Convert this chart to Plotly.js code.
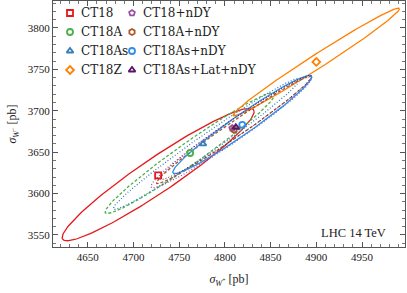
<!DOCTYPE html>
<html>
<head>
<meta charset="utf-8">
<script src="https://cdn.plot.ly/plotly-3.0.1.min.js"></script>
<style>html,body{margin:0;padding:0;background:#fff;}#chart{width:407px;height:293px;}</style>
</head>
<body>
<div id="chart"></div>
<script>
// PDF sets (legend order)
const names   = ["CT18", "CT18A", "CT18As", "CT18Z", "CT18+nDY", "CT18A+nDY", "CT18As+nDY", "CT18As+Lat+nDY"];
// central values (pb)
const sigWplus  = [4727, 4762, 4776, 4900, 4808, 4810, 4819, 4812];
const sigWminus = [3622, 3649, 3660, 3759, 3679, 3677, 3683, 3680];
// error-ellipse centres and parameters (pb): half-extent in W+, half-extent in W-, correlation
const ellCx  = [4727, 4762, 4780, 4900, 4807, 4810, 4819, 4812];
const ellCy  = [3623, 3649, 3660, 3759, 3674, 3677, 3683.5, 3680];
const ellSx  = [105, 93, 102, 91, 88, 85, 76, 83];
const ellSy  = [80, 73, 79, 65, 67, 65, 59.3, 63];
const ellRho = [0.95, 0.975, 0.985, 0.988, 0.975, 0.985, 0.97, 0.98];

const colors  = ["#e41a1c", "#4daf4a", "#377eb8", "#ff7f00", "#984ea3", "#a65628", "#2f8fe8", "#5a1468"];
const dashes  = ["solid", "3px,2px", "1px,2px", "solid", "1px,2px", "3px,2px", "solid", "1px,2px"];
const widths  = [1.3, 1.3, 1.3, 1.3, 1.3, 1.3, 1.3, 1.0];
const symbols = ["square-open", "circle-open", "triangle-up-open", "diamond-open", "pentagon-open", "hexagon-open", "circle-open", "triangle-up-open"];

function ellipse(i) {
  const xs = [], ys = [], n = 200;
  const s = Math.sqrt(1 - ellRho[i] * ellRho[i]);
  for (let k = 0; k <= n; k++) {
    const t = 2 * Math.PI * k / n;
    xs.push(ellCx[i] + ellSx[i] * Math.cos(t));
    ys.push(ellCy[i] + ellSy[i] * (ellRho[i] * Math.cos(t) + s * Math.sin(t)));
  }
  return {xs, ys};
}

const traces = [];
for (let i = 0; i < names.length; i++) {
  const e = ellipse(i);
  traces.push({
    x: e.xs, y: e.ys, type: "scatter", mode: "lines", showlegend: false, hoverinfo: "skip",
    line: {color: colors[i], width: widths[i], dash: dashes[i]}
  });
}
for (let i = 0; i < names.length; i++) {
  traces.push({
    x: [sigWplus[i]], y: [sigWminus[i]], type: "scatter", mode: "markers", name: names[i],
    showlegend: false,
    marker: {symbol: symbols[i], size: 6, color: colors[i], line: {color: colors[i], width: 1.8}}
  });
}

// hand-placed two-column legend (4 rows per column), drawn on an overlay axis in [0,1]
const font = "Liberation Serif, DejaVu Serif, serif";
const legFont = "DejaVu Serif, serif";
const plotL = 53, plotR = 405, plotT = 1, plotB = 247;
const colMarkerPx = [70, 132], colTextPx = [79, 141];
const rowTopPx = 13, rowStepPx = 19;
const annotations = [];
for (let i = 0; i < names.length; i++) {
  const col = Math.floor(i / 4), row = i % 4;
  const py = rowTopPx + row * rowStepPx;
  const yp = (plotB - py) / (plotB - plotT);
  traces.push({
    x: [(colMarkerPx[col] - plotL) / (plotR - plotL)], y: [yp],
    xaxis: "x2", yaxis: "y2", type: "scatter", mode: "markers", showlegend: false, hoverinfo: "skip",
    cliponaxis: false,
    marker: {symbol: symbols[i], size: 6, color: colors[i], line: {color: colors[i], width: 1.8}}
  });
  annotations.push({
    text: names[i], xref: "paper", yref: "paper",
    x: (colTextPx[col] - plotL) / (plotR - plotL), y: yp,
    xanchor: "left", yanchor: "middle", showarrow: false,
    font: {family: legFont, size: 12, color: "#222"}
  });
}
annotations.push({
  text: "LHC 14 TeV", xref: "paper", yref: "paper", x: 0.952, y: 0.057,
  xanchor: "right", yanchor: "middle", showarrow: false,
  font: {family: font, size: 12.5, color: "#222"}
});

const axisCommon = {
  showline: true, linecolor: "#555", linewidth: 1, mirror: "ticks",
  ticks: "inside", ticklen: 5, tickcolor: "#555", tickwidth: 1,
  minor: {ticks: "inside", ticklen: 3, tickcolor: "#555", tickwidth: 0.8},
  showgrid: false, zeroline: false,
  tickfont: {family: font, size: 11, color: "#222"}
};

const layout = {
  width: 407, height: 293,
  margin: {l: plotL, r: 407 - plotR, t: plotT, b: 293 - plotB},
  paper_bgcolor: "#fff", plot_bgcolor: "#fff",
  font: {family: font, color: "#222"},
  showlegend: false,
  xaxis: Object.assign({}, axisCommon, {
    range: [4612, 4997], dtick: 50, tick0: 4650, minor: Object.assign({}, axisCommon.minor, {dtick: 10}),
    title: {text: "<i>σ</i><sub><i>W</i><sup>+</sup></sub> [pb]", font: {family: font, size: 12, color: "#222"}, standoff: 12}
  }),
  yaxis: Object.assign({}, axisCommon, {
    range: [3535.5, 3832.6], dtick: 50, tick0: 3550, minor: Object.assign({}, axisCommon.minor, {dtick: 10}),
    title: {text: "<i>σ</i><sub><i>W</i><sup>−</sup></sub> [pb]", font: {family: font, size: 12, color: "#222"}, standoff: 8}
  }),
  xaxis2: {overlaying: "x", anchor: "y2", range: [0, 1], visible: false, fixedrange: true},
  yaxis2: {overlaying: "y", anchor: "x2", range: [0, 1], visible: false, fixedrange: true},
  annotations: annotations
};

Plotly.newPlot("chart", traces, layout, {staticPlot: true, displayModeBar: false});
</script>
</body>
</html>
